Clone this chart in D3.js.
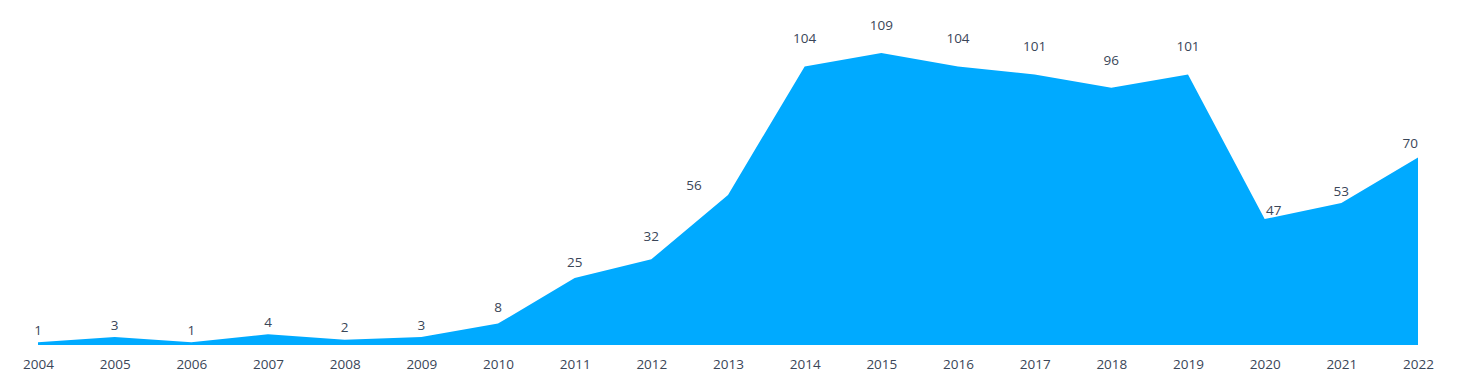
<!DOCTYPE html>
<html>
<head>
<meta charset="utf-8">
<script src="https://cdn.jsdelivr.net/npm/d3@7"></script>
<style>
  body { margin: 0; background: #fff; }
  text { font-family: "Open Sans", Lato, sans-serif; }
</style>
</head>
<body>
<svg id="chart" width="1458" height="388"></svg>
<script>
// data
var years = [2004, 2005, 2006, 2007, 2008, 2009, 2010, 2011, 2012, 2013,
             2014, 2015, 2016, 2017, 2018, 2019, 2020, 2021, 2022];
var counts = [1, 3, 1, 4, 2, 3, 8, 25, 32, 56,
              104, 109, 104, 101, 96, 101, 47, 53, 70];

var svg = d3.select("#chart");
var margin = {left: 38, right: 40, top: 53, bottom: 43};
var width = 1458, height = 388;
var textColor = "#3a4658";

var x = d3.scalePoint()
    .domain(years)
    .range([margin.left, width - margin.right]);

var y = d3.scaleLinear()
    .domain([0, 109])
    .range([height - margin.bottom, margin.top]);

var rows = years.map(function(d, i) { return {year: d, value: counts[i], i: i}; });

var area = d3.area()
    .x(function(d) { return x(d.year); })
    .y0(y(0))
    .y1(function(d) { return y(d.value); });

svg.append("path")
    .datum(rows)
    .attr("d", area)
    .attr("fill", "#00aaff");

// labels get nudged away from the area, roughly like the original
function labelPos(d) {
    var i = d.i, v = d.value;
    var prev = i > 0 ? counts[i - 1] : v;
    var next = i < counts.length - 1 ? counts[i + 1] : v;
    var dx = 0, off = 12, anchor = "middle";
    if (i == counts.length - 1) { anchor = "end"; off = 14; }
    else if (next - v > 40) { dx = -34; off = 10; }
    else if (prev - v > 40) { dx = 9; off = 9; }
    else if (v >= 90) { off = 28; }
    else if (next - v > 20) { off = 23; }
    else if (v >= 8 && v < 40) { off = 16; }
    return {x: x(d.year) + dx, y: y(v) - off, anchor: anchor};
}

svg.selectAll(".val")
    .data(rows)
    .enter()
    .append("text")
    .attr("class", "val")
    .attr("x", function(d) { return labelPos(d).x; })
    .attr("y", function(d) { return labelPos(d).y; })
    .attr("dy", "0.35em")
    .attr("text-anchor", function(d) { return labelPos(d).anchor; })
    .attr("font-size", "13.5px")
    .attr("fill", textColor)
    .text(function(d) { return d.value; });

// x axis, no line or ticks
var xAxis = svg.append("g")
    .attr("transform", "translate(0," + y(0) + ")")
    .call(d3.axisBottom(x).tickSize(0).tickPadding(14));

xAxis.select(".domain").remove();
xAxis.selectAll("text")
    .attr("font-size", "13.5px")
    .attr("font-family", "'Open Sans', Lato, sans-serif")
    .attr("fill", textColor);
</script>
</body>
</html>
